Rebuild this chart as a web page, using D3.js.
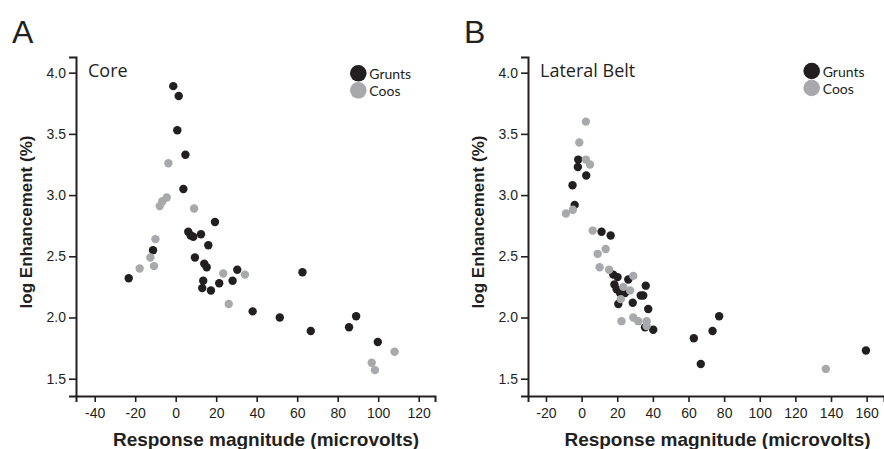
<!DOCTYPE html>
<html>
<head>
<meta charset="utf-8">
<script src="https://cdn.jsdelivr.net/npm/d3@7"></script>
<style>
  body { margin: 0; background: #fff; }
  svg { display: block; }
  .tick text { font-family: "Liberation Sans", Arial, sans-serif; font-size: 14px; fill: #231f20; }
</style>
</head>
<body>
<div id="chart"></div>
<script>
// [response magnitude (microvolts), log enhancement (%)]
var coreGrunts = [[-1.2,3.89],[1.5,3.81],[0.8,3.53],[4.8,3.33],[3.8,3.05],[19.4,2.78],[6.2,2.70],[7.4,2.67],
  [8.7,2.66],[12.5,2.68],[16.1,2.59],[-11.2,2.55],[9.5,2.49],[14.1,2.44],[15.3,2.41],[-23.2,2.32],[13.6,2.30],
  [13.1,2.24],[17.4,2.22],[21.5,2.28],[28.1,2.30],[30.4,2.39],[62.6,2.37],[38.0,2.05],[51.4,2.00],[66.7,1.89],
  [85.6,1.92],[89.1,2.01],[99.8,1.80]];
var coreCoos = [[-3.6,3.26],[-4.4,2.98],[-6.6,2.95],[-7.9,2.91],[9.1,2.89],[-10.0,2.64],[-12.5,2.49],[-10.7,2.42],
  [-17.8,2.40],[23.5,2.36],[34.2,2.35],[26.2,2.11],[96.8,1.63],[98.4,1.57],[108.1,1.72]];
var beltGrunts = [[-1.9,3.29],[-2.1,3.23],[2.6,3.16],[-5.1,3.08],[-3.9,2.92],[11.2,2.70],[16.3,2.67],[17.8,2.35],
  [20.2,2.33],[18.4,2.27],[19.7,2.23],[21.6,2.20],[24.4,2.20],[26.2,2.31],[20.6,2.11],[28.7,2.12],[33.2,2.18],
  [34.6,2.18],[36.0,2.26],[37.4,2.07],[35.6,1.92],[40.2,1.90],[63.0,1.83],[66.9,1.62],[73.5,1.89],[77.2,2.01],
  [159.6,1.73]];
var beltCoos = [[2.4,3.60],[-1.3,3.43],[2.4,3.29],[4.7,3.25],[-8.8,2.85],[-4.9,2.88],[6.2,2.71],[13.5,2.56],
  [9.0,2.52],[10.1,2.41],[15.4,2.39],[29.0,2.34],[23.4,2.25],[27.2,2.22],[22.0,2.15],[22.4,1.97],[29.0,2.00],
  [31.8,1.97],[36.5,1.97],[36.5,1.93],[137.1,1.58]];

var yTicks = [1.5, 2.0, 2.5, 3.0, 3.5, 4.0];
var coreXTicks = [-40, -20, 0, 20, 40, 60, 80, 100, 120];
var beltXTicks = [-20, 0, 20, 40, 60, 80, 100, 120, 140, 160];
var seriesNames = ['Grunts', 'Coos'];
var colors = ['#231f20', '#a7a9ac'];

var w = 884, h = 449;
var svg = d3.select('#chart').append('svg')
  .attr('width', w)
  .attr('height', h);

function panel(opt) {
  var x = d3.scaleLinear().domain(opt.xDomain).range([opt.left, opt.right]);
  var y = d3.scaleLinear().domain([1.3587, 4.128]).range([396, 57]);
  var g = svg.append('g');

  // axes
  g.append('g')
    .attr('transform', 'translate(' + opt.left + ',0)')
    .call(d3.axisLeft(y).tickValues(yTicks).tickFormat(d3.format('.1f')).tickSizeOuter(0).tickSize(7).tickPadding(3));
  g.append('g')
    .attr('transform', 'translate(0,396)')
    .call(d3.axisBottom(x).tickValues(opt.xTicks).tickFormat(function(d) { return d; }).tickSizeOuter(0).tickSize(6).tickPadding(6));
  g.selectAll('.domain').attr('stroke', '#231f20').attr('stroke-width', 2);
  g.selectAll('.tick line').attr('stroke', '#231f20').attr('stroke-width', 1.6);

  // dots
  [opt.grunts, opt.coos].forEach(function(data, i) {
    g.selectAll('circle.s' + i)
      .data(data).enter()
      .append('circle')
      .attr('class', 's' + i)
      .attr('cx', function(d) { return x(d[0]); })
      .attr('cy', function(d) { return y(d[1]); })
      .attr('r', 4.2)
      .attr('fill', colors[i]);
  });

  // panel letter and region name
  g.append('text')
    .attr('x', opt.left - 64)
    .attr('y', 43)
    .attr('font-family', 'Liberation Sans, Arial, sans-serif')
    .attr('font-size', 32)
    .attr('fill', '#231f20')
    .text(opt.letter);
  g.append('text')
    .attr('x', opt.left + 12)
    .attr('y', 77)
    .attr('font-family', 'Open Sans, sans-serif')
    .attr('font-size', 18)
    .attr('fill', '#231f20')
    .text(opt.title);

  // legend
  var leg = g.selectAll('g.leg')
    .data(seriesNames).enter()
    .append('g')
    .attr('class', 'leg')
    .attr('transform', function(d, i) { return 'translate(' + opt.legendX + ',' + (opt.legendY + i * 17) + ')'; });
  leg.append('circle')
    .attr('r', 8.3)
    .attr('fill', function(d, i) { return colors[i]; });
  leg.append('text')
    .attr('x', 11)
    .attr('y', 5.5)
    .attr('font-family', 'Lato, sans-serif')
    .attr('font-size', 14)
    .attr('fill', '#231f20')
    .text(function(d) { return d; });

  // axis titles
  g.append('text')
    .attr('transform', 'translate(' + (opt.left - 44) + ',' + 222 + ') rotate(-90)')
    .attr('text-anchor', 'middle')
    .attr('font-family', 'Liberation Sans, Arial, sans-serif')
    .attr('font-weight', 'bold')
    .attr('font-size', 17)
    .attr('fill', '#231f20')
    .text('log Enhancement (%)');
  g.append('text')
    .attr('x', opt.titleX)
    .attr('y', 446)
    .attr('text-anchor', 'middle')
    .attr('font-family', 'Liberation Sans, Arial, sans-serif')
    .attr('font-weight', 'bold')
    .attr('font-size', 19)
    .attr('fill', '#231f20')
    .text('Response magnitude (microvolts)');
}

panel({letter: 'A', title: 'Core', left: 76, right: 435, xDomain: [-49.23, 128.05], xTicks: coreXTicks,
  grunts: coreGrunts, coos: coreCoos, legendX: 358.3, legendY: 73.3, titleX: 266});
panel({letter: 'B', title: 'Lateral Belt', left: 528, right: 884, xDomain: [-30.09, 169.74], xTicks: beltXTicks,
  grunts: beltGrunts, coos: beltCoos, legendX: 811.7, legendY: 71, titleX: 717.5});
</script>
</body>
</html>
